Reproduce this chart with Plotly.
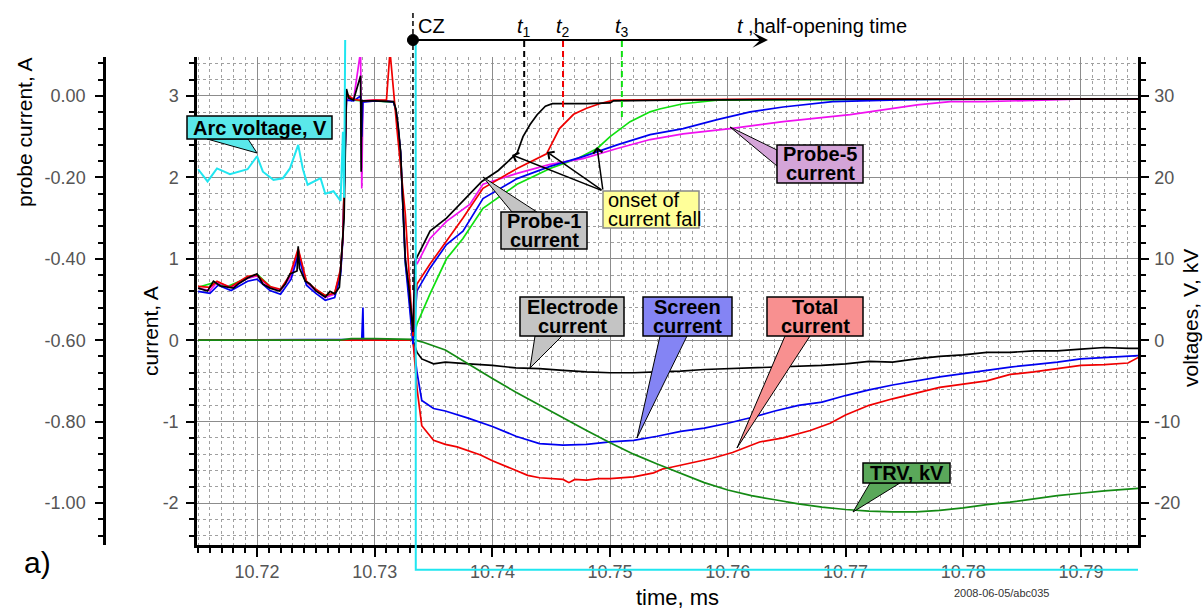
import plotly.graph_objects as go

W, H = 1203, 610
ML, MR, MT, MB = 40, 40, 20, 20
PW, PH = W - ML - MR, H - MT - MB


def PX(px):
    return (px - ML) / PW


def PY(py):
    return (H - MB - py) / PH


FONT = "Liberation Sans, Arial, sans-serif"

# ---------------- axis scales / ticks ----------------
X_RANGE = [10.714902, 10.794851]
I_RANGE = [-2.516, 3.479]          # current, A
V_RANGE = [-25.16, 34.79]          # voltages, V, kV
P_RANGE = [(I_RANGE[0] - 3) * 0.2, (I_RANGE[1] - 3) * 0.2]   # probe current, A

X_TICKS = [10.72, 10.73, 10.74, 10.75, 10.76, 10.77, 10.78, 10.79]
X_LABELS = ["10.72", "10.73", "10.74", "10.75", "10.76", "10.77", "10.78", "10.79"]
I_TICKS = [-2, -1, 0, 1, 2, 3]
I_LABELS = ["-2", "-1", "0", "1", "2", "3"]
V_TICKS = [-20, -10, 0, 10, 20, 30]
V_LABELS = ["-20", "-10", "0", "10", "20", "30"]
P_TICKS = [-1.0, -0.8, -0.6, -0.4, -0.2, 0.0]
P_LABELS = ["-1.00", "-0.80", "-0.60", "-0.40", "-0.20", "0.00"]

# ---------------- event times ----------------
T_CZ = 10.73325
T_1 = 10.7427
T_2 = 10.7460
T_3 = 10.7510

# ---------------- data: currents (A) ----------------
T_ELEC = [10.7150, 10.7250, 10.7330, 10.73325, 10.7336, 10.7340, 10.7350, 10.7360, 10.7380, 10.7400,
          10.7420, 10.7440, 10.7460, 10.7480, 10.7500, 10.7520, 10.7540, 10.7560, 10.7580, 10.7600,
          10.7620, 10.7640, 10.7660, 10.7680, 10.7700, 10.7720, 10.7740, 10.7760, 10.7780, 10.7800,
          10.7820, 10.7840, 10.7860, 10.7880, 10.7900, 10.7920, 10.7940, 10.7949]
ELEC = [0.0, 0.0, 0.0, 0.0, -0.15, -0.23, -0.29, -0.27, -0.29, -0.31,
        -0.34, -0.35, -0.37, -0.39, -0.40, -0.40, -0.39, -0.38, -0.36, -0.35,
        -0.34, -0.33, -0.32, -0.31, -0.29, -0.26, -0.27, -0.23, -0.20, -0.18,
        -0.15, -0.15, -0.13, -0.13, -0.11, -0.09, -0.10, -0.10]

T_SCREEN = [10.7150, 10.7250, 10.7289, 10.7290, 10.72905, 10.7330, 10.73325, 10.7336, 10.7340, 10.7350,
            10.7360, 10.7380, 10.7400, 10.7420, 10.7440, 10.7460, 10.7480, 10.7500, 10.7520, 10.7540,
            10.7560, 10.7580, 10.7600, 10.7620, 10.7640, 10.7660, 10.7680, 10.7700, 10.7720, 10.7740,
            10.7760, 10.7780, 10.7800, 10.7820, 10.7840, 10.7860, 10.7880, 10.7900, 10.7920, 10.7940,
            10.7949]
SCREEN = [0.0, 0.01, 0.01, 0.40, 0.01, 0.0, 0.0, -0.40, -0.74, -0.84,
          -0.87, -0.96, -1.06, -1.18, -1.27, -1.29, -1.28, -1.25, -1.23, -1.18,
          -1.12, -1.08, -1.02, -0.95, -0.87, -0.80, -0.76, -0.68, -0.61, -0.55,
          -0.50, -0.45, -0.41, -0.37, -0.33, -0.30, -0.27, -0.23, -0.21, -0.19,
          -0.19]

T_TOTAL = [10.7150, 10.7250, 10.7330, 10.73325, 10.7336, 10.7340, 10.7350, 10.7360, 10.7370, 10.7380,
           10.7390, 10.7400, 10.7410, 10.7420, 10.7430, 10.7440, 10.7450, 10.7460, 10.7465, 10.7470,
           10.7480, 10.7490, 10.7500, 10.7510, 10.7520, 10.7537, 10.7545, 10.7549, 10.7568, 10.7587,
           10.7604, 10.7627, 10.7647, 10.7670, 10.7687, 10.7700, 10.7720, 10.7740, 10.7760, 10.7780,
           10.7800, 10.7820, 10.7840, 10.7860, 10.7880, 10.7900, 10.7920, 10.7940, 10.7949]
TOTAL = [0.0, 0.0, 0.0, 0.0, -0.60, -1.05, -1.23, -1.28, -1.31, -1.36,
         -1.41, -1.48, -1.54, -1.60, -1.66, -1.69, -1.70, -1.71, -1.75, -1.71,
         -1.72, -1.70, -1.70, -1.69, -1.68, -1.63, -1.58, -1.57, -1.51, -1.45,
         -1.38, -1.25, -1.20, -1.11, -1.02, -0.92, -0.80, -0.72, -0.65, -0.58,
         -0.54, -0.50, -0.42, -0.39, -0.35, -0.31, -0.30, -0.28, -0.21]

# ---------------- data: TRV (kV) ----------------
T_TRV = [10.7150, 10.7200, 10.7270, 10.7280, 10.7300, 10.73325, 10.7340, 10.7360, 10.7380, 10.7400,
         10.7420, 10.7440, 10.7460, 10.7480, 10.7500, 10.7520, 10.7540, 10.7560, 10.7580, 10.7600,
         10.7620, 10.7640, 10.7660, 10.7680, 10.7700, 10.7720, 10.7740, 10.7760, 10.7780, 10.7800,
         10.7820, 10.7840, 10.7860, 10.7880, 10.7900, 10.7920, 10.7940, 10.7949]
TRV = [0.0, 0.0, 0.0, 0.2, 0.2, 0.1, -0.2, -1.2, -3.0, -4.7,
       -6.4, -8.0, -9.5, -11.1, -12.6, -14.0, -15.2, -16.4, -17.5, -18.4,
       -19.1, -19.6, -20.1, -20.5, -20.8, -21.0, -21.1, -21.1, -20.9, -20.6,
       -20.2, -19.9, -19.5, -19.1, -18.8, -18.5, -18.3, -18.2]

# ---------------- data: arc voltage (V) ----------------
T_ARC = [10.7150, 10.7158, 10.7166, 10.7177, 10.7192, 10.7200, 10.7205, 10.7214, 10.7222, 10.7228,
         10.7235, 10.7239, 10.7243, 10.7254, 10.7258, 10.7265, 10.7271, 10.7273, 10.7274, 10.7276,
         10.73348, 10.73349, 10.7949]
ARC = [21.0, 19.5, 21.1, 20.4, 21.0, 22.6, 20.7, 19.7, 19.9, 21.1,
       24.0, 21.0, 19.1, 19.9, 18.0, 18.3, 17.1, 25.6, 17.5, 60.0,
       60.0, -28.2, -28.2]

# ---------------- data: probe currents (A) ----------------
T_P1 = [10.7150, 10.7158, 10.7163, 10.7169, 10.7180, 10.7184, 10.7192, 10.7200, 10.7205, 10.7211,
        10.7219, 10.7224, 10.7228, 10.7234, 10.7235, 10.7236, 10.7241, 10.7245, 10.7250, 10.7258,
        10.7262, 10.7266, 10.7270, 10.7271, 10.7273, 10.7274, 10.7276, 10.7278, 10.7282, 10.7288,
        10.72885, 10.7289, 10.7300, 10.7310, 10.7316, 10.7318, 10.7320, 10.7322, 10.7324, 10.7326,
        10.7329, 10.73325, 10.73342, 10.7347, 10.7361, 10.7375, 10.7391, 10.7405, 10.7417, 10.7421,
        10.7426, 10.7432, 10.7438, 10.7445, 10.7451, 10.7480, 10.7500, 10.7503, 10.7550, 10.7600,
        10.7700, 10.7800, 10.7900, 10.7949]
P1 = [-0.472, -0.479, -0.455, -0.467, -0.472, -0.462, -0.447, -0.437, -0.462, -0.472,
      -0.479, -0.462, -0.437, -0.430, -0.369, -0.423, -0.455, -0.462, -0.479, -0.494,
      -0.480, -0.486, -0.470, -0.423, -0.340, -0.300, 0.017, -0.005, -0.010, 0.050,
      -0.186, -0.012, -0.012, -0.013, -0.014, -0.032, -0.075, -0.137, -0.252, -0.400,
      -0.470, -0.580, -0.406, -0.332, -0.300, -0.259, -0.210, -0.183, -0.149, -0.140,
      -0.100, -0.070, -0.046, -0.025, -0.019, -0.019, -0.017, -0.012, -0.010, -0.009,
      -0.008, -0.008, -0.007, -0.007]

T_P2 = [10.7150, 10.7160, 10.7166, 10.7177, 10.7192, 10.7200, 10.7211, 10.7220, 10.7228, 10.7235,
        10.7242, 10.7250, 10.7258, 10.7266, 10.7271, 10.7273, 10.7276, 10.7282, 10.7290, 10.7300,
        10.7310, 10.7313, 10.7319, 10.7326, 10.73325, 10.73359, 10.7347, 10.7361, 10.7375, 10.7392,
        10.7421, 10.7446, 10.7457, 10.7469, 10.7480, 10.7491, 10.7503, 10.7600, 10.7949]
P2 = [-0.468, -0.470, -0.455, -0.470, -0.443, -0.440, -0.468, -0.475, -0.440, -0.375,
      -0.455, -0.475, -0.490, -0.484, -0.425, -0.345, 0.005, -0.008, -0.012, -0.010,
      -0.010, 0.110, -0.084, -0.290, -0.590, -0.462, -0.413, -0.357, -0.300, -0.227,
      -0.178, -0.142, -0.080, -0.045, -0.030, -0.019, -0.010, -0.008, -0.007]

T_P3 = [10.7150, 10.7162, 10.7175, 10.7192, 10.7201, 10.7212, 10.7220, 10.7229, 10.7235, 10.7242,
        10.7251, 10.7259, 10.7266, 10.7271, 10.7273, 10.7276, 10.7282, 10.7290, 10.7300, 10.7310,
        10.7316, 10.7318, 10.7320, 10.7322, 10.7324, 10.7326, 10.7329, 10.73325, 10.73359, 10.7347,
        10.7361, 10.7375, 10.7392, 10.7421, 10.7449, 10.7472, 10.7489, 10.7500, 10.7517, 10.7534,
        10.7542, 10.7562, 10.7591, 10.7949]
P3 = [-0.470, -0.460, -0.468, -0.447, -0.440, -0.470, -0.478, -0.440, -0.380, -0.458,
      -0.478, -0.492, -0.485, -0.430, -0.340, 0.000, -0.010, -0.012, -0.012, -0.013,
      -0.015, -0.035, -0.080, -0.140, -0.260, -0.410, -0.480, -0.600, -0.560, -0.486,
      -0.400, -0.350, -0.276, -0.217, -0.178, -0.154, -0.129, -0.100, -0.063, -0.039,
      -0.032, -0.019, -0.010, -0.007]

T_P4 = [10.7150, 10.7160, 10.7167, 10.7178, 10.7192, 10.7200, 10.7211, 10.7220, 10.7229, 10.7235,
        10.7242, 10.7250, 10.7258, 10.7266, 10.7271, 10.7273, 10.7276, 10.7282, 10.7288, 10.7289,
        10.7290, 10.7300, 10.7310, 10.7316, 10.7318, 10.7320, 10.7322, 10.7324, 10.7326, 10.7329,
        10.73325, 10.73359, 10.7347, 10.7361, 10.7375, 10.7392, 10.7421, 10.7449, 10.7477, 10.7506,
        10.7534, 10.7562, 10.7591, 10.7619, 10.7647, 10.7689, 10.7746, 10.7800, 10.7949]
P4 = [-0.480, -0.485, -0.465, -0.478, -0.455, -0.450, -0.478, -0.487, -0.450, -0.390,
      -0.465, -0.485, -0.502, -0.495, -0.440, -0.350, -0.010, -0.012, 0.000, -0.100,
      -0.015, -0.012, -0.013, -0.015, -0.035, -0.080, -0.140, -0.260, -0.410, -0.500,
      -0.610, -0.479, -0.423, -0.365, -0.332, -0.252, -0.203, -0.173, -0.149, -0.120,
      -0.095, -0.080, -0.058, -0.039, -0.027, -0.014, -0.0095, -0.008, -0.007]

T_P5 = [10.7150, 10.7160, 10.7166, 10.7178, 10.7192, 10.7200, 10.7211, 10.7220, 10.7229, 10.7235,
        10.7242, 10.7250, 10.7258, 10.7266, 10.7271, 10.7273, 10.7276, 10.7282, 10.7288, 10.7289,
        10.7290, 10.7300, 10.7310, 10.7316, 10.7318, 10.7320, 10.7322, 10.7324, 10.7326, 10.7329,
        10.73325, 10.73342, 10.73359, 10.7347, 10.7361, 10.7381, 10.7392, 10.7421, 10.7449, 10.7477,
        10.7506, 10.7534, 10.7562, 10.7602, 10.7647, 10.7704, 10.7761, 10.7789, 10.7817, 10.7874,
        10.7902, 10.7949]
P5 = [-0.472, -0.478, -0.458, -0.470, -0.448, -0.442, -0.470, -0.478, -0.442, -0.380,
      -0.458, -0.478, -0.495, -0.487, -0.430, -0.345, -0.005, -0.010, 0.110, -0.227,
      -0.012, -0.010, -0.012, -0.014, -0.035, -0.080, -0.140, -0.260, -0.400, -0.480,
      -0.580, -0.400, -0.413, -0.350, -0.308, -0.266, -0.217, -0.190, -0.168, -0.154,
      -0.129, -0.107, -0.093, -0.080, -0.063, -0.046, -0.022, -0.014, -0.014, -0.0095,
      -0.007, -0.007]

# ---------------- colours ----------------
C_BLACK = "#000000"
C_RED = "#f00000"
C_GREEN = "#10e010"
C_BLUE = "#0000f0"
C_MAGENTA = "#f010f0"
C_TRV = "#148a14"
C_CYAN = "#20e6f0"

fig = go.Figure()


def line_trace(x, y, color, xa="x", ya="y", width=1.7):
    fig.add_trace(go.Scatter(x=x, y=y, mode="lines", xaxis=xa, yaxis=ya,
                             line=dict(color=color, width=width), hoverinfo="skip",
                             showlegend=False))


# currents on current axis
line_trace(T_ELEC, ELEC, C_BLACK)
line_trace(T_SCREEN, SCREEN, C_BLUE)
line_trace(T_TOTAL, TOTAL, C_RED)
# TRV on voltage axis
line_trace(T_TRV, TRV, C_TRV, ya="y2")
# probe currents on probe axis
line_trace(T_P3, P3, C_GREEN, ya="y3")
line_trace(T_P5, P5, C_MAGENTA, ya="y3")
line_trace(T_P4, P4, C_BLUE, ya="y3")
line_trace(T_P2, P2, C_RED, ya="y3")
line_trace(T_P1, P1, C_BLACK, ya="y3")
# arc voltage on an extended copy of the voltage scale (drawn beyond the frame)
line_trace(T_ARC, ARC, C_CYAN, xa="x2", ya="y4", width=2)

# extended voltage scale for the arc-voltage trace
D0, D1 = PY(545), PY(57)
E0, E1 = PY(575), PY(40)
slope = (V_RANGE[1] - V_RANGE[0]) / (D1 - D0)
V_EXT = [V_RANGE[0] - (D0 - E0) * slope, V_RANGE[1] + (E1 - D1) * slope]

TICKFONT = dict(family=FONT, size=18, color="#555555")
GRID = "#8c8c8c"
MINGRID = "#a0a0a0"

fig.update_layout(
    width=W, height=H,
    margin=dict(l=ML, r=MR, t=MT, b=MB),
    paper_bgcolor="white", plot_bgcolor="rgba(0,0,0,0)",
    font=dict(family=FONT, color="black"),
    showlegend=False,
    xaxis=dict(domain=[PX(197), PX(1138)], range=X_RANGE, anchor="y",
               tickmode="array", tickvals=X_TICKS, ticktext=X_LABELS,
               ticks="outside", ticklen=9, tickwidth=2, tickcolor="black",
               showline=True, linecolor="black", linewidth=2.5,
               showgrid=True, gridcolor=GRID, gridwidth=1.4, zeroline=False,
               tickfont=TICKFONT, automargin=False, ticklabelstandoff=0,
               minor=dict(tickmode="linear", tick0=10.72, dtick=0.001, ticks="outside",
                          ticklen=5, tickwidth=1.5, tickcolor="black",
                          showgrid=True, gridcolor=MINGRID, gridwidth=1, griddash="3px,3px")),
    yaxis=dict(domain=[D0, D1], range=I_RANGE, anchor="x", side="left",
               tickmode="array", tickvals=I_TICKS, ticktext=I_LABELS,
               ticks="outside", ticklen=8, tickwidth=2, tickcolor="black",
               showline=True, linecolor="black", linewidth=2.5,
               showgrid=True, gridcolor=GRID, gridwidth=1.4, zeroline=False,
               tickfont=TICKFONT, automargin=False, ticklabelstandoff=4,
               minor=dict(tickmode="linear", tick0=0, dtick=0.2, ticks="outside",
                          ticklen=5, tickwidth=1.5, tickcolor="black",
                          showgrid=True, gridcolor=MINGRID, gridwidth=1, griddash="3px,3px")),
    yaxis2=dict(overlaying="y", side="right", anchor="x", range=V_RANGE,
                tickmode="array", tickvals=V_TICKS, ticktext=V_LABELS,
                ticks="outside", ticklen=8, tickwidth=2, tickcolor="black",
                showline=True, linecolor="black", linewidth=2.5,
                showgrid=False, zeroline=False, tickfont=TICKFONT, automargin=False,
                ticklabelstandoff=2,
                minor=dict(tickmode="linear", tick0=0, dtick=2, ticks="outside",
                           ticklen=5, tickwidth=1.5, tickcolor="black", showgrid=False)),
    yaxis3=dict(overlaying="y", side="left", anchor="free", position=PX(104), range=P_RANGE,
                tickmode="array", tickvals=P_TICKS, ticktext=P_LABELS,
                ticks="outside", ticklen=8, tickwidth=2, tickcolor="black",
                showline=True, linecolor="black", linewidth=2.5,
                showgrid=False, zeroline=False, tickfont=TICKFONT, automargin=False,
                ticklabelstandoff=6,
                minor=dict(tickmode="linear", tick0=0, dtick=0.04, ticks="outside",
                           ticklen=5, tickwidth=1.5, tickcolor="black", showgrid=False)),
    xaxis2=dict(domain=[PX(197), PX(1138)], range=X_RANGE, anchor="y4", visible=False),
    yaxis4=dict(domain=[E0, E1], range=V_EXT, anchor="x2", visible=False),
)

shapes = []
ann = []


def text(px, py, s, size=20, color="black", angle=0, xanchor="center", weight=None):
    ann.append(dict(x=PX(px), y=PY(py), xref="paper", yref="paper", text=s, showarrow=False,
                    textangle=angle, xanchor=xanchor, yanchor="middle",
                    font=dict(family=FONT, size=size, color=color)))


# axis titles and labels
text(25, 133, "probe current, A", size=21, angle=-90)
text(151, 331, "current, A", size=21, angle=-90)
text(1190, 318, "voltages, V, kV", size=21, angle=-90)
text(677, 597, "time, ms", size=22)
text(37, 562, "a)", size=30)
text(1001, 593, "2008-06-05/abc035", size=11, color="#333333")

# time marker line (CZ ... half-opening time)
shapes.append(dict(type="line", xref="x", yref="paper", x0=T_CZ, x1=T_CZ, y0=PY(290), y1=PY(12),
                   line=dict(color="black", width=1.5, dash="5px,3px")))
for tt, col in [(T_1, "black"), (T_2, C_RED), (T_3, C_GREEN)]:
    shapes.append(dict(type="line", xref="x", yref="paper", x0=tt, x1=tt, y0=PY(117), y1=PY(40),
                       line=dict(color=col, width=2, dash="6px,4px")))
ann.append(dict(x=PX(768), y=PY(40), xref="paper", yref="paper", text="", showarrow=True,
                ax=-(768 - 413), ay=0, axref="pixel", ayref="pixel", arrowhead=3, arrowsize=1.3,
                arrowwidth=2, arrowcolor="black", standoff=0, startstandoff=0))
shapes.append(dict(type="circle", xref="x", yref="paper", xsizemode="pixel", ysizemode="pixel",
                   xanchor=T_CZ, yanchor=PY(40), x0=-5.5, x1=5.5, y0=-5.5, y1=5.5,
                   fillcolor="black", line=dict(color="black", width=1)))
text(431, 26, "CZ", size=20)
for tt, sub in [(T_1, "1"), (T_2, "2"), (T_3, "3")]:
    ann.append(dict(x=tt, y=PY(27), xref="x", yref="paper", text=f"<i>t</i><sub>{sub}</sub>",
                    showarrow=False, xanchor="center", yanchor="middle",
                    font=dict(family=FONT, size=20, color="black")))
text(735, 26, "<i>t</i> ,half-opening time", size=20, xanchor="left")


def callout(box, lines, fill, tip, base, size=20, bold=True, align="center", border="black"):
    x0, y0, x1, y1 = box
    if tip is not None:
        shapes.append(dict(type="path", xref="paper", yref="paper",
                           path=(f"M {PX(base[0][0])},{PY(base[0][1])} L {PX(tip[0])},{PY(tip[1])} "
                                 f"L {PX(base[1][0])},{PY(base[1][1])} Z"),
                           fillcolor=fill, line=dict(color="black", width=1)))
    shapes.append(dict(type="rect", xref="paper", yref="paper", x0=PX(x0), x1=PX(x1),
                       y0=PY(y1), y1=PY(y0), fillcolor=fill, line=dict(color=border, width=1.5)))
    n = len(lines)
    lh = (y1 - y0) / n
    for i, s in enumerate(lines):
        s2 = f"<b>{s}</b>" if bold else s
        if align == "center":
            text((x0 + x1) / 2, y0 + lh * (i + 0.5), s2, size=size)
        else:
            text(x0 + 3, y0 + lh * (i + 0.5), s2, size=size, xanchor="left")


callout((187, 116, 332, 139), ["Arc voltage, V"], "#5ae8ea", (257, 153), [(207, 139), (248, 139)])
callout((501, 212, 587, 249), ["Probe-1", "current"], "#c4c4c4", (483, 177), [(512, 212), (537, 212)])
callout((777, 145, 863, 183), ["Probe-5", "current"], "#d4a4d8", (730, 127), [(777, 150), (777, 166)])
callout((520, 297, 624, 336), ["Electrode", "current"], "#c4c4c4", (530, 368), [(535, 336), (562, 336)])
callout((643, 297, 732, 336), ["Screen", "current"], "#8484f4", (637, 438), [(660, 336), (687, 336)])
callout((767, 297, 863, 336), ["Total", "current"], "#f89090", (737, 448), [(785, 336), (810, 336)])
callout((863, 463, 950, 483), ["TRV, kV"], "#5aa85a", (853, 512), [(870, 483), (900, 483)])

# onset of current fall
for tip in [(512, 155), (547, 152), (597, 147)]:
    ann.append(dict(x=PX(tip[0]), y=PY(tip[1]), xref="paper", yref="paper", text="",
                    showarrow=True, ax=603 - tip[0], ay=191 - tip[1], axref="pixel", ayref="pixel",
                    arrowhead=4, arrowsize=1.2, arrowwidth=1.5, arrowcolor="black",
                    standoff=0, startstandoff=0))
callout((603, 191, 699, 228), ["onset of", "current fall"], "#ffff99", None, None,
        bold=False, align="left", border="#888888")

fig.update_layout(shapes=shapes, annotations=ann)
fig.write_html("out.html")
